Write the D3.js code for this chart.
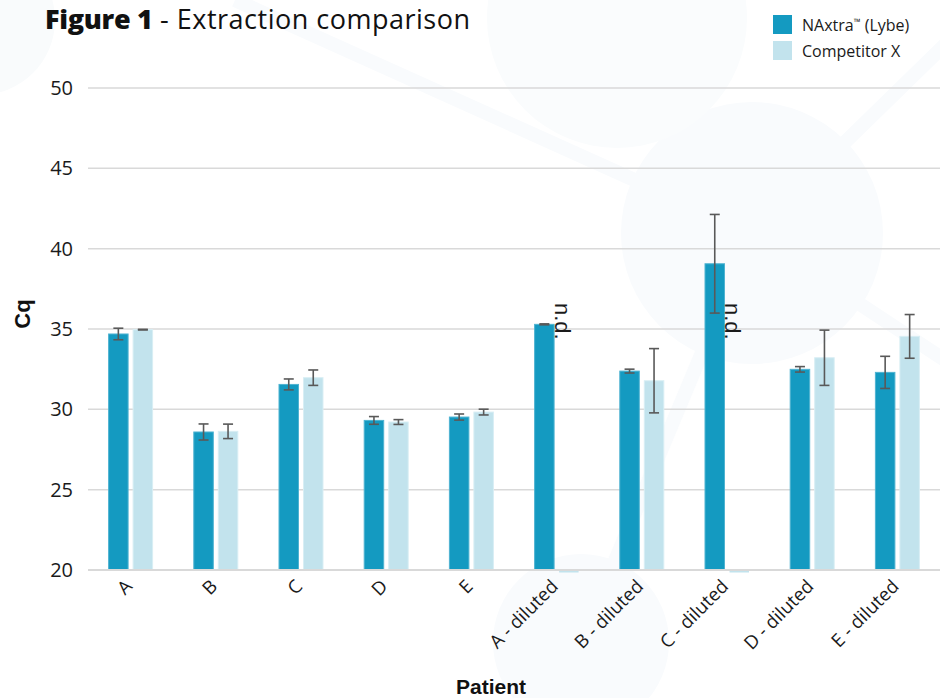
<!DOCTYPE html>
<html>
<head>
<meta charset="utf-8">
<script src="https://cdn.jsdelivr.net/npm/d3@7"></script>
<style>
  html, body { margin: 0; padding: 0; background: #fff; }
  svg { display: block; }
  text { font-family: "Open Sans", "Noto Sans", sans-serif; }
</style>
</head>
<body>
<svg id="chart" width="940" height="698"></svg>
<script>
const categories = ["A", "B", "C", "D", "E", "A - diluted", "B - diluted", "C - diluted", "D - diluted", "E - diluted"];
const seriesNames = ["NAxtra™ (Lybe)", "Competitor X"];
const naxtraValues = [34.69, 28.59, 31.55, 29.31, 29.52, 35.29, 32.38, 39.06, 32.49, 32.30];
const naxtraErrors = [0.36, 0.50, 0.34, 0.24, 0.19, 0.03, 0.12, 3.07, 0.17, 1.00];
const competitorValues = [34.96, 28.63, 31.97, 29.21, 29.83, null, 31.78, null, 33.21, 34.54];
const competitorErrors = [0.02, 0.45, 0.48, 0.15, 0.18, null, 2.00, null, 1.72, 1.36];
const yTicks = [20, 25, 30, 35, 40, 45, 50];
const ndLabel = "n.d.";

const colors = ["#149ac1", "#c2e3ed"];
const svg = d3.select("#chart");

// faint decorative background
const bgc = "#f9fbfd";
const bg = svg.append("g").attr("fill", bgc).attr("stroke", bgc);
bg.append("line").attr("x1", 235).attr("y1", 0).attr("x2", 752).attr("y2", 233).attr("stroke-width", 14);
bg.append("line").attr("x1", 752).attr("y1", 233).attr("x2", 960).attr("y2", 30).attr("stroke-width", 14);
bg.append("line").attr("x1", 752).attr("y1", 233).attr("x2", 960).attr("y2", 370).attr("stroke-width", 14);
bg.append("line").attr("x1", 752).attr("y1", 233).attr("x2", 581).attr("y2", 642).attr("stroke-width", 14);
bg.append("circle").attr("cx", 752).attr("cy", 233).attr("r", 131).attr("stroke", "none");
bg.append("circle").attr("cx", 617).attr("cy", 18).attr("r", 130).attr("stroke", "none").attr("fill", "#fafcfd");
bg.append("circle").attr("cx", 581).attr("cy", 642).attr("r", 88).attr("stroke", "none");
bg.append("circle").attr("cx", -20).attr("cy", 20).attr("r", 75).attr("stroke", "none").attr("fill", "#f9fbfc");

const x0 = d3.scaleBand().domain(categories).range([88, 940]).paddingInner(0.4836).paddingOuter(0.2418);
const x1 = d3.scaleBand().domain(seriesNames).range([0, x0.bandwidth()]).paddingInner(0.204);
const y = d3.scaleLinear().domain([20, 50]).range([570, 88]);

// gridlines
svg.append("g").selectAll("line").data(yTicks).join("line")
  .attr("x1", 88).attr("x2", 940)
  .attr("y1", d => y(d)).attr("y2", d => y(d))
  .attr("stroke", "#d9d9d9").attr("stroke-width", 1.5);

// y axis labels
const yAxis = d3.axisLeft(y).tickValues(yTicks).tickSize(0).tickPadding(0);
const yg = svg.append("g").attr("transform", "translate(73,0)").call(yAxis);
yg.select(".domain").remove();
yg.selectAll("text").attr("font-size", 20).attr("fill", "#1a1a1a")
  .style("font-family", "'Open Sans', sans-serif");

const rows = categories.map((c, i) => ({
  cat: c,
  items: [
    { s: seriesNames[0], v: naxtraValues[i], e: naxtraErrors[i], ci: 0 },
    { s: seriesNames[1], v: competitorValues[i], e: competitorErrors[i], ci: 1 }
  ]
}));

const groups = svg.append("g").selectAll("g").data(rows).join("g")
  .attr("transform", d => `translate(${x0(d.cat)},0)`);

// bars
groups.selectAll("rect.bar").data(d => d.items.filter(it => it.v != null)).join("rect")
  .attr("class", "bar")
  .attr("x", d => x1(d.s))
  .attr("width", x1.bandwidth())
  .attr("y", d => y(d.v))
  .attr("height", d => y(20) - y(d.v))
  .attr("fill", d => colors[d.ci])
  .attr("stroke", d => d.ci === 0 ? "#4fb3d1" : "#d8eef4")
  .attr("stroke-width", 1);

// n.d. slivers
groups.selectAll("rect.nd").data(d => d.items.filter(it => it.v == null)).join("rect")
  .attr("class", "nd")
  .attr("x", d => x1(d.s))
  .attr("width", x1.bandwidth())
  .attr("y", y(20))
  .attr("height", 2.5)
  .attr("fill", d => colors[d.ci]);

// n.d. labels
groups.selectAll("text.ndl").data(d => d.items.filter(it => it.v == null)).join("text")
  .attr("class", "ndl")
  .attr("transform", d => `translate(${x1(d.s) - 4},303) rotate(90)`)
  .attr("font-size", 22)
  .attr("fill", "#1a1a1a")
  .style("font-family", "'Liberation Sans', Arial, sans-serif")
  .text(ndLabel);

// x axis baseline
svg.append("line").attr("x1", 88).attr("x2", 940).attr("y1", y(20)).attr("y2", y(20))
  .attr("stroke", "#d9d9d9").attr("stroke-width", 2);

// error bars
const eb = groups.selectAll("g.err").data(d => d.items.filter(it => it.v != null)).join("g")
  .attr("class", "err")
  .attr("stroke", "#595959").attr("stroke-width", 1.6);
eb.append("line")
  .attr("x1", d => x1(d.s) + x1.bandwidth() / 2).attr("x2", d => x1(d.s) + x1.bandwidth() / 2)
  .attr("y1", d => y(d.v + d.e)).attr("y2", d => y(d.v - d.e));
eb.append("line")
  .attr("x1", d => x1(d.s) + x1.bandwidth() / 2 - 5).attr("x2", d => x1(d.s) + x1.bandwidth() / 2 + 5)
  .attr("y1", d => y(d.v + d.e)).attr("y2", d => y(d.v + d.e));
eb.append("line")
  .attr("x1", d => x1(d.s) + x1.bandwidth() / 2 - 5).attr("x2", d => x1(d.s) + x1.bandwidth() / 2 + 5)
  .attr("y1", d => y(d.v - d.e)).attr("y2", d => y(d.v - d.e));

// x axis labels
const xAxis = d3.axisBottom(x0).tickSize(0).tickPadding(0);
const xg = svg.append("g").call(xAxis);
xg.select(".domain").remove();
xg.selectAll(".tick").attr("transform", d => `translate(${x0(d) + x0.bandwidth() / 2 - 2},583)`);
xg.selectAll("text")
  .attr("y", 0).attr("dy", "0.35em")
  .attr("text-anchor", "end")
  .attr("transform", "rotate(-45)")
  .attr("font-size", 18.5)
  .attr("fill", "#1a1a1a")
  .style("font-family", "'Open Sans', sans-serif");

// axis titles
svg.append("text").attr("transform", "translate(30,314) rotate(-90)")
  .attr("text-anchor", "middle").attr("font-size", 22).attr("font-weight", "bold")
  .attr("fill", "#111")
  .style("font-family", "'Liberation Sans', Arial, sans-serif")
  .text("Cq");
svg.append("text").attr("x", 491).attr("y", 694)
  .attr("text-anchor", "middle").attr("font-size", 21).attr("font-weight", "bold")
  .attr("fill", "#111")
  .style("font-family", "'Liberation Sans', Arial, sans-serif")
  .text("Patient");

// title
const title = svg.append("text").attr("x", 45).attr("y", 29).attr("font-size", 27).attr("fill", "#111")
  .style("font-family", "'Open Sans', sans-serif");
title.append("tspan").attr("font-weight", 800).attr("letter-spacing", -0.3).text("Figure 1");
title.append("tspan").attr("font-weight", 400).attr("letter-spacing", 0.5).text(" - Extraction comparison");

// legend
const lg = svg.append("g").selectAll("g").data(seriesNames).join("g")
  .attr("transform", (d, i) => `translate(773,${15 + i * 26})`);
lg.append("rect").attr("width", 19).attr("height", 19).attr("fill", (d, i) => colors[i]);
const lt = lg.append("text").attr("x", 29).attr("y", 16).attr("font-size", 16).attr("fill", "#1a1a1a")
  .style("font-family", "'Open Sans', sans-serif");
lt.each(function (d) {
  const t = d3.select(this);
  const parts = d.split("™");
  t.append("tspan").text(parts[0]);
  if (parts.length > 1) {
    t.append("tspan").attr("font-size", 9).attr("dy", -6).text("™");
    t.append("tspan").attr("dy", 6).text(parts[1]);
  }
});
</script>
</body>
</html>
